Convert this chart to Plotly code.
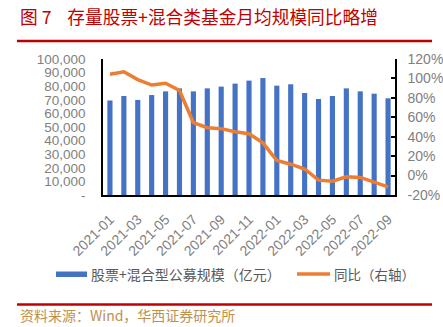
import plotly.graph_objects as go

months = ["2021-01", "2021-02", "2021-03", "2021-04", "2021-05", "2021-06", "2021-07",
          "2021-08", "2021-09", "2021-10", "2021-11", "2021-12", "2022-01", "2022-02",
          "2022-03", "2022-04", "2022-05", "2022-06", "2022-07", "2022-08", "2022-09"]
scale = [69500, 72800, 69900, 73500, 76200, 78400, 76200, 78400, 79700, 81900, 84100,
         86000, 80400, 81400, 75000, 70600, 72800, 78400, 76200, 74500, 71100]
yoy = [104.4, 106.8, 98.8, 93.2, 95.0, 87.6, 54.6, 49.3, 48.3, 45.2, 43.1, 33.7,
       15.5, 11.7, 6.8, -4.7, -5.8, -1.2, -1.9, -7.1, -11.6]
left_ticks = list(range(0, 100001, 10000))
left_text = ["-"] + [f"{v:,}" for v in left_ticks[1:]]
right_ticks = list(range(-20, 121, 20))
right_text = [f"{v}%" for v in right_ticks]
bar_name = "股票+混合型公募规模（亿元）"
line_name = "同比（右轴）"
title = "图 7    存量股票+混合类基金月均规模同比略增"
source = "资料来源：Wind，华西证券研究所"

W, H = 443, 327
L, R, T, B = 103, 395, 59, 195

def px(x):
    return (x - L) / (R - L)

def py(y):
    return (B - y) / (B - T)

idx = list(range(len(months)))
BLUE = "#4472C4"
ORANGE = "#ED7D31"
RED = "#C00000"
GRAY = "#808080"
TXT = "#595959"
FONT = "Liberation Sans, Arial, sans-serif"
CJK = "Noto Sans CJK SC"

fig = go.Figure()
fig.add_trace(go.Bar(x=idx, y=scale, name=bar_name, marker_color=BLUE,
                     marker_line_width=0, width=0.37, yaxis="y"))
fig.add_trace(go.Scatter(x=idx, y=yoy, name=line_name, mode="lines",
                         line=dict(color=ORANGE, width=3.5), yaxis="y2"))

fig.update_layout(
    width=W, height=H,
    margin=dict(l=L, r=W - R, t=T, b=H - B, autoexpand=False),
    paper_bgcolor="white", plot_bgcolor="white",
    showlegend=False,
    xaxis=dict(range=[-0.5, len(months) - 0.5], tickmode="array",
               tickvals=idx[::2], ticktext=months[::2], tickangle=-45,
               ticks="", showline=True, linecolor="black", linewidth=1.5,
               showgrid=False, zeroline=False, ticklabelstandoff=9,
               tickfont=dict(family=FONT, size=14, color=GRAY)),
    xaxis2=dict(range=[-0.5, len(months) - 0.5], overlaying="x", anchor="y",
                side="bottom", tickmode="array",
                tickvals=[i - 0.5 for i in idx[::2]], showticklabels=False,
                ticks="outside", ticklen=5, tickwidth=1.5, tickcolor="black",
                showline=False, showgrid=False, zeroline=False),
    yaxis=dict(range=[0, 100000], tickmode="array", tickvals=left_ticks,
               ticktext=left_text, showline=True, linecolor="black", linewidth=1.5,
               showgrid=False, zeroline=False, ticks="", ticklabelstandoff=13,
               tickfont=dict(family=FONT, size=13.5, color=GRAY)),
    yaxis2=dict(range=[-20, 120], tickmode="array", tickvals=right_ticks,
                ticktext=right_text, overlaying="y", side="right", anchor="x",
                showline=True, linecolor="black", linewidth=1.5,
                ticks="inside", ticklen=4, tickwidth=1.5, tickcolor="black",
                showgrid=False, zeroline=False, ticklabelstandoff=8,
                tickfont=dict(family=FONT, size=14, color=GRAY)),
)

shapes = [
    dict(type="line", xref="paper", yref="paper", x0=px(17), x1=px(432), y0=py(41), y1=py(41),
         line=dict(color=RED, width=2.5)),
    dict(type="line", xref="paper", yref="paper", x0=px(17), x1=px(432), y0=py(304.5), y1=py(304.5),
         line=dict(color=RED, width=2.5)),
    dict(type="rect", xref="paper", yref="paper", x0=px(56), x1=px(87), y0=py(277), y1=py(271.5),
         fillcolor=BLUE, line=dict(width=0)),
    dict(type="line", xref="paper", yref="paper", x0=px(297), x1=px(330), y0=py(274), y1=py(274),
         line=dict(color=ORANGE, width=3.5)),
]
annotations = [
    dict(text=title, xref="paper", yref="paper", x=px(18), y=py(16), xanchor="left",
         yanchor="middle", showarrow=False, font=dict(family=CJK, size=17.7, color=RED)),
    dict(text=bar_name, xref="paper", yref="paper", x=px(89), y=py(274), xanchor="left",
         yanchor="middle", showarrow=False, font=dict(family=CJK, size=14, color=TXT)),
    dict(text=line_name, xref="paper", yref="paper", x=px(332), y=py(274), xanchor="left",
         yanchor="middle", showarrow=False, font=dict(family=CJK, size=13.5, color=TXT)),
    dict(text=source, xref="paper", yref="paper", x=px(18), y=py(315), xanchor="left",
         yanchor="middle", showarrow=False, font=dict(family=CJK, size=14, color="#C0904D")),
]
fig.update_layout(shapes=shapes, annotations=annotations)
fig.write_html("out.html")
